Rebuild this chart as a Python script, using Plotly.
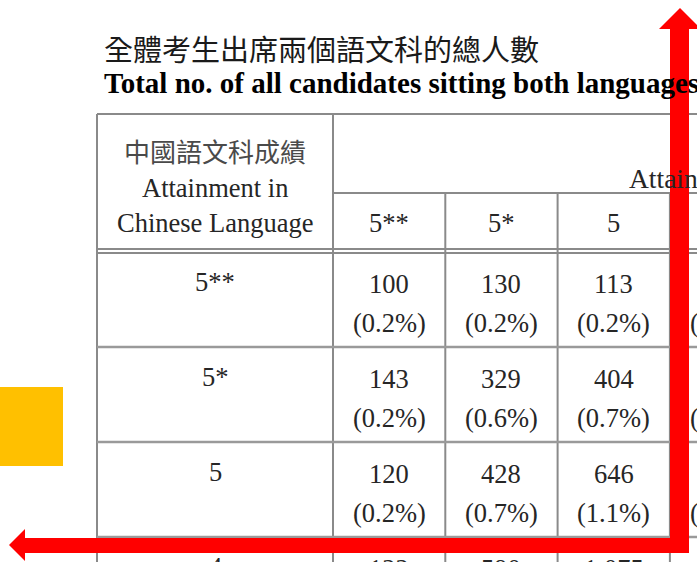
import plotly.graph_objects as go

# ---------------- data ----------------
title_zh = "全體考生出席兩個語文科的總人數"
title_en = "Total no. of all candidates sitting both languages"
row_header = ["中國語文科成績", "Attainment in", "Chinese Language"]
col_header = "Attainment in English Language"
chinese_grades = ["5**", "5*", "5", "4"]
english_grades = ["5**", "5*", "5", "4"]
counts = [
    [100, 130, 113, 80],
    [143, 329, 404, 318],
    [120, 428, 646, 1003],
    [122, 590, 1075, 2876],
]
percents = [
    [0.2, 0.2, 0.2, 0.1],
    [0.2, 0.6, 0.7, 0.5],
    [0.2, 0.7, 1.1, 1.7],
    [0.2, 1.0, 1.8, 4.7],
]

# ---------------- layout geometry (pixels) ----------------
W, H = 697, 562
SERIF = "Liberation Serif, Times New Roman, serif"
CJK = "Noto Sans CJK TC, Noto Sans CJK SC, sans-serif"
GRID = "#8a8a8a"
TXT = "#262626"
TS = 26.5  # table text size

tbl_left, tbl_top = 97, 114
first_col_right = 333
col_w = 112.3
sub_hdr_y = 193
hdr_bottom = 251
row_h = 95

fig = go.Figure()
fig.add_trace(go.Scatter(x=[0, W], y=[0, H], mode="markers",
                         marker=dict(opacity=0), hoverinfo="skip", showlegend=False))

shapes = []
annos = []

def line(x0, y0, x1, y1, w=2, c=GRID):
    shapes.append(dict(type="line", xref="x", yref="y", x0=x0, y0=y0, x1=x1, y1=y1,
                       line=dict(color=c, width=w), layer="below"))

# table grid
line(tbl_left, tbl_top, W + 5, tbl_top)
line(tbl_left, tbl_top, tbl_left, H + 5)
line(first_col_right, tbl_top, first_col_right, H + 5)
line(first_col_right, sub_hdr_y, W + 5, sub_hdr_y)
col_x = [first_col_right + i * col_w for i in range(len(english_grades) + 1)]
for cx in col_x[1:]:
    line(cx, sub_hdr_y, cx, H + 5)
line(tbl_left, hdr_bottom - 2, W + 5, hdr_bottom - 2, w=2)
line(tbl_left, hdr_bottom + 2, W + 5, hdr_bottom + 2, w=2)
for i in range(1, len(chinese_grades)):
    line(tbl_left, hdr_bottom + 1 + i * row_h, W + 5, hdr_bottom + 1 + i * row_h, w=2.5, c="#9a9a9a")

def text(x, y, s, size, font=SERIF, anchor="center", color=TXT, bold=False):
    # paper coordinates so text running past the page edge is still drawn (then cropped)
    annos.append(dict(x=x / W, y=1 - y / H, xref="paper", yref="paper",
                      text=("<b>%s</b>" % s) if bold else s,
                      showarrow=False, xanchor=anchor, yanchor="middle",
                      font=dict(family=font, size=size, color=color)))

# titles
text(102, 48, title_zh, 29, font=CJK, anchor="left", color="#1a1a1a")
text(102, 83, title_en, 29, anchor="left", color="#000000", bold=True)

# header cells
hx = (tbl_left + first_col_right) / 2
text(hx, 151, row_header[0], 26, font=CJK, color="#4a4a4a")
text(hx, 188, row_header[1], TS)
text(hx, 223, row_header[2], TS)
text(627, 178, col_header, 27.5, anchor="left")
for j, g in enumerate(english_grades):
    text((col_x[j] + col_x[j + 1]) / 2, 223, g, TS)

# body
for i, g in enumerate(chinese_grades):
    top = hdr_bottom + 1 + i * row_h
    text(hx, top + 30, g, TS)
    for j in range(len(english_grades)):
        cx = (col_x[j] + col_x[j + 1]) / 2
        text(cx, top + 32, f"{counts[i][j]:,}", TS)
        text(cx, top + 71, f"({percents[i][j]:.1f}%)", TS)

# yellow marker square
shapes.append(dict(type="rect", xref="x", yref="y", x0=0, x1=63, y0=387, y1=466,
                   fillcolor="#FFC000", line=dict(width=0), layer="above"))

# red L-shaped double arrow
pts = [(680, 8), (701, 29), (689, 29), (689, 553), (25, 553), (25, 561), (9, 545),
       (25, 529), (25, 538), (670, 538), (670, 29), (659, 29)]
path = "M " + " L ".join(f"{x},{y}" for x, y in pts) + " Z"
shapes.append(dict(type="path", xref="x", yref="y", path=path,
                   fillcolor="#FF0000", line=dict(width=0), layer="above"))

fig.update_layout(
    width=W, height=H, autosize=False,
    margin=dict(l=0, r=0, t=0, b=0),
    paper_bgcolor="white", plot_bgcolor="white",
    xaxis=dict(range=[0, W], visible=False, fixedrange=True),
    yaxis=dict(range=[H, 0], visible=False, fixedrange=True),
    shapes=shapes, annotations=annos, showlegend=False,
)
fig.write_html("out.html", config={"displayModeBar": False},
               post_script="document.body.style.margin='0';document.body.style.padding='0';"
                           "document.body.style.overflow='hidden';")
